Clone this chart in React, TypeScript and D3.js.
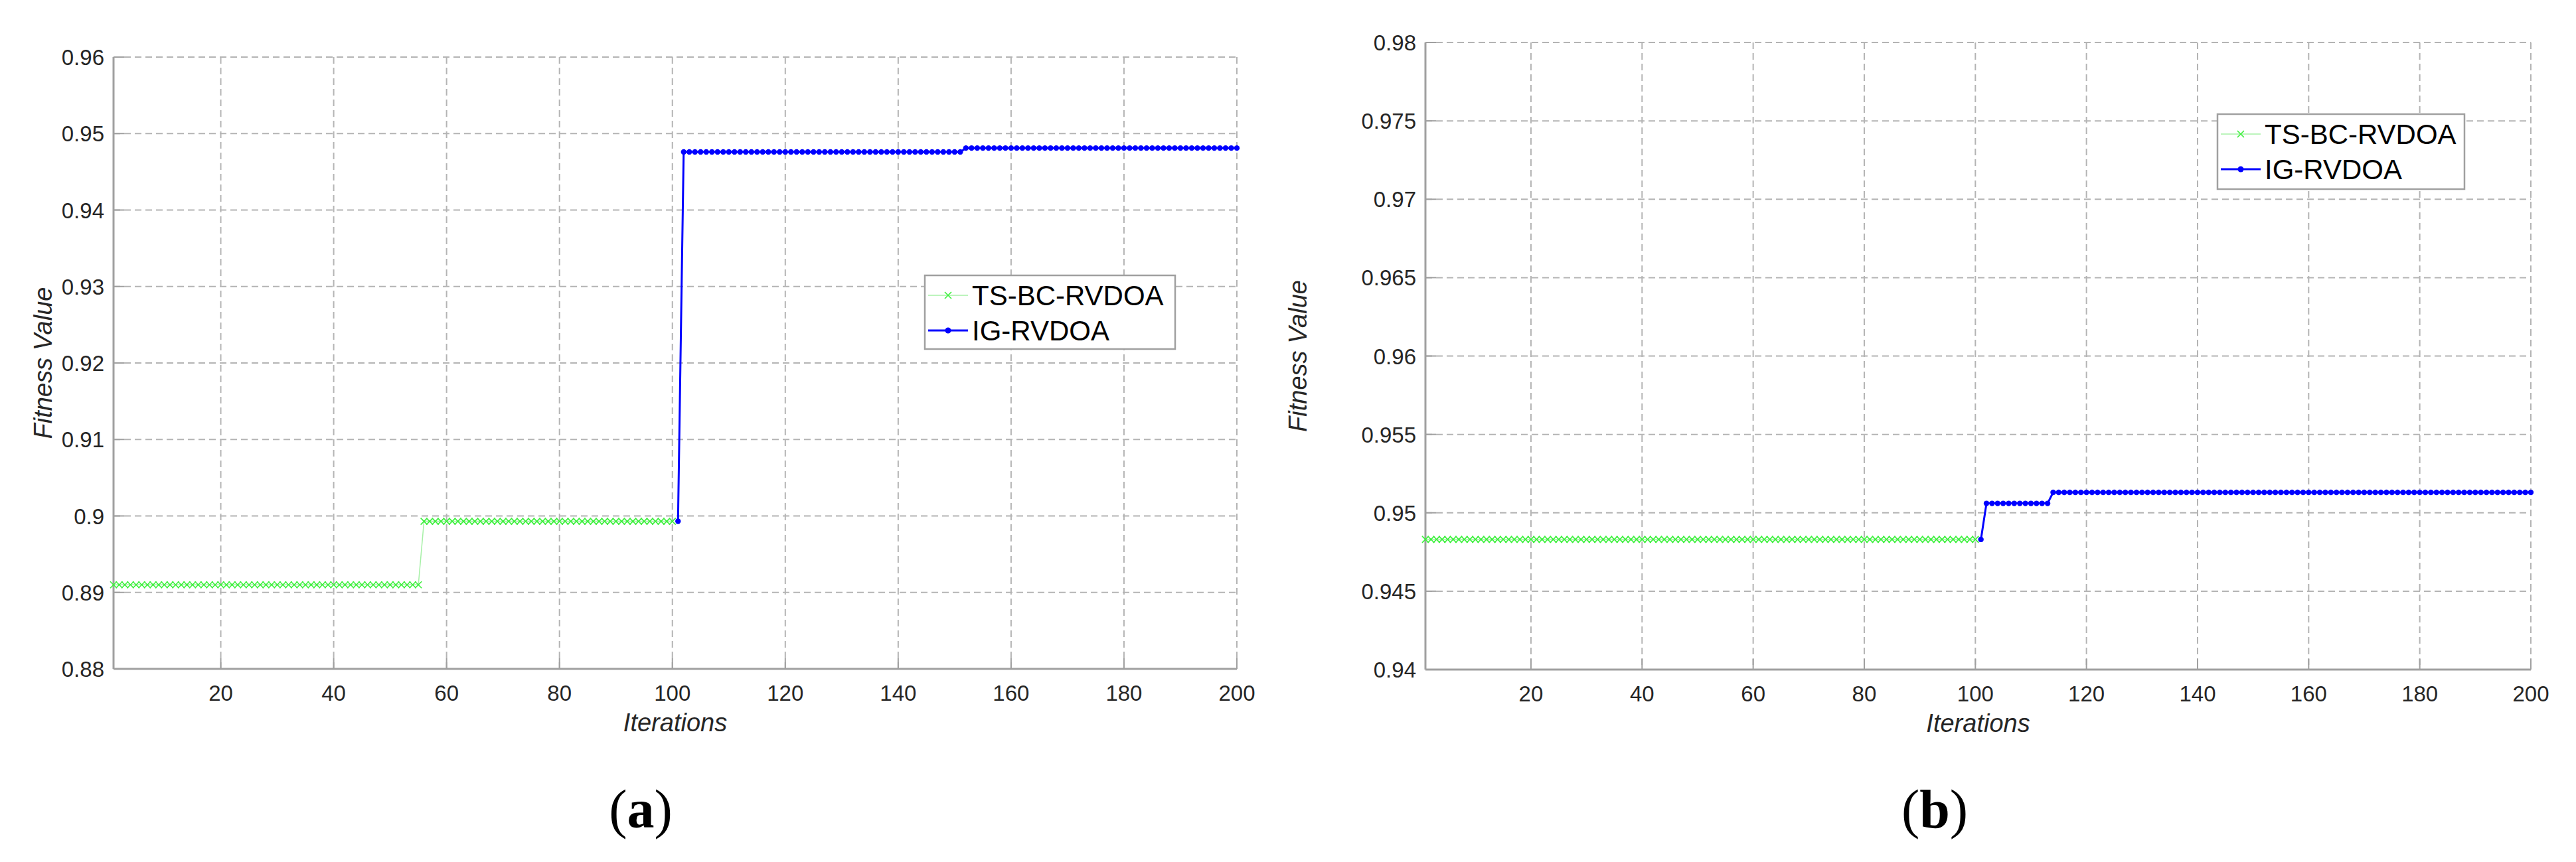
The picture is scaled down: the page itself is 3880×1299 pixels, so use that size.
import React from "react";
import * as d3 from "d3";

// ---------- data ----------
const iterTicks = [20, 40, 60, 80, 100, 120, 140, 160, 180, 200];
const yTicksA = [0.88, 0.89, 0.9, 0.91, 0.92, 0.93, 0.94, 0.95, 0.96];
const yTickLabelsA = ["0.88", "0.89", "0.9", "0.91", "0.92", "0.93", "0.94", "0.95", "0.96"];
const yTicksB = [0.94, 0.945, 0.95, 0.955, 0.96, 0.965, 0.97, 0.975, 0.98];
const yTickLabelsB = ["0.94", "0.945", "0.95", "0.955", "0.96", "0.965", "0.97", "0.975", "0.98"];

// step runs: [first iteration, last iteration, fitness value]
const tsRunsA = [[1, 55, 0.891], [56, 100, 0.8993]];
const igRunsA = [[101, 101, 0.8993], [102, 151, 0.9476], [152, 200, 0.9481]];
const tsRunsB = [[1, 100, 0.9483]];
const igRunsB = [[101, 101, 0.9483], [102, 113, 0.9506], [114, 200, 0.9513]];

const seriesNames = ["TS-BC-RVDOA", "IG-RVDOA"];
const panelLabels = ["(a)", "(b)"];

function expand(runs: number[][]) {
  const pts: { x: number; y: number }[] = [];
  runs.forEach(([a, b, v]) => {
    for (let i = a; i <= b; i++) pts.push({ x: i, y: v });
  });
  return pts;
}

const SANS = "'Liberation Sans', Arial, Helvetica, sans-serif";
const SERIF = "'Liberation Serif', 'Times New Roman', serif";
const AXIS = "#a0a0a0";
const GRID = "#b4b4b4";
const TXT = "#262626";
const GREEN_LINE = "#a6f0a6";
const GREEN_MK = "#3cf03c";
const BLUE = "#0000ff";

type PanelProps = {
  left: number; right: number; top: number; bottom: number;
  yDomain: [number, number]; yTicks: number[]; yLabels: string[];
  ts: number[][]; ig: number[][];
  legend: { x: number; y: number; w: number; h: number };
  label: string; labelX: number; ylabX: number;
};

function Panel(p: PanelProps) {
  const x = d3.scaleLinear().domain([1, 200]).range([p.left, p.right]);
  const y = d3.scaleLinear().domain(p.yDomain).range([p.bottom, p.top]);
  const line = d3.line<{ x: number; y: number }>().x(d => x(d.x)).y(d => y(d.y));
  const tsPts = expand(p.ts);
  const igPts = expand(p.ig);
  const cx = (p.left + p.right) / 2;
  const cy = (p.top + p.bottom) / 2;
  const tickLen = 16;
  const mk = 5;
  const L = p.legend;
  const row1 = L.y + 30;
  const row2 = L.y + 83;
  const sx0 = L.x + 5, sx1 = L.x + 65, smx = L.x + 35;
  const textX = L.x + 71;
  return (
    <g>
      {/* grid */}
      {iterTicks.map(t => (
        <line key={"vg" + t} x1={x(t)} x2={x(t)} y1={p.top} y2={p.bottom}
          stroke={GRID} strokeWidth={2} strokeDasharray="10,6" />
      ))}
      {p.yTicks.map(t => (
        <line key={"hg" + t} x1={p.left} x2={p.right} y1={y(t)} y2={y(t)}
          stroke={GRID} strokeWidth={2} strokeDasharray="10,6" />
      ))}
      {/* axes */}
      <line x1={p.left} x2={p.right} y1={p.bottom} y2={p.bottom} stroke={AXIS} strokeWidth={3} />
      <line x1={p.left} x2={p.left} y1={p.top} y2={p.bottom} stroke={AXIS} strokeWidth={3} />
      {iterTicks.map(t => (
        <line key={"xt" + t} x1={x(t)} x2={x(t)} y1={p.bottom} y2={p.bottom - tickLen} stroke={AXIS} strokeWidth={2} />
      ))}
      {p.yTicks.map(t => (
        <line key={"yt" + t} x1={p.left} x2={p.left + tickLen} y1={y(t)} y2={y(t)} stroke={AXIS} strokeWidth={2} />
      ))}
      {iterTicks.map(t => (
        <text key={"xl" + t} x={x(t)} y={p.bottom + 48} textAnchor="middle"
          fontFamily={SANS} fontSize={33} fill={TXT}>{t}</text>
      ))}
      {p.yTicks.map((t, i) => (
        <text key={"yl" + t} x={p.left - 14} y={y(t) + 12} textAnchor="end"
          fontFamily={SANS} fontSize={33} fill={TXT}>{p.yLabels[i]}</text>
      ))}
      {/* series: TS-BC-RVDOA */}
      <path d={line(tsPts) || ""} fill="none" stroke={GREEN_LINE} strokeWidth={1.5} />
      {tsPts.map((d, i) => (
        <path key={"tm" + i}
          d={`M${x(d.x) - mk},${y(d.y) - mk}L${x(d.x) + mk},${y(d.y) + mk}M${x(d.x) - mk},${y(d.y) + mk}L${x(d.x) + mk},${y(d.y) - mk}`}
          stroke={GREEN_MK} strokeWidth={1.6} fill="none" />
      ))}
      {/* series: IG-RVDOA */}
      <path d={line(igPts) || ""} fill="none" stroke={BLUE} strokeWidth={3} />
      {igPts.map((d, i) => (
        <circle key={"im" + i} cx={x(d.x)} cy={y(d.y)} r={4.2} fill={BLUE} />
      ))}
      {/* axis labels */}
      <text x={cx} y={p.bottom + 94} textAnchor="middle" fontFamily={SANS} fontStyle="italic"
        fontSize={38} fill={TXT}>Iterations</text>
      <text transform={`translate(${p.ylabX},${cy}) rotate(-90)`} textAnchor="middle" fontFamily={SANS}
        fontStyle="italic" fontSize={38} fill={TXT}>Fitness Value</text>
      {/* legend */}
      <rect x={L.x} y={L.y} width={L.w} height={L.h} fill="#ffffff" stroke={AXIS} strokeWidth={2.5} />
      <line x1={sx0} x2={sx1} y1={row1} y2={row1} stroke={GREEN_LINE} strokeWidth={1.5} />
      <path d={`M${smx - mk},${row1 - mk}L${smx + mk},${row1 + mk}M${smx - mk},${row1 + mk}L${smx + mk},${row1 - mk}`}
        stroke={GREEN_MK} strokeWidth={1.6} />
      <text x={textX} y={row1 + 15} fontFamily={SANS} fontSize={42} fill="#000">{seriesNames[0]}</text>
      <line x1={sx0} x2={sx1} y1={row2} y2={row2} stroke={BLUE} strokeWidth={3} />
      <circle cx={smx} cy={row2} r={4.5} fill={BLUE} />
      <text x={textX} y={row2 + 15} fontFamily={SANS} fontSize={42} fill="#000">{seriesNames[1]}</text>
      {/* panel label */}
      <text x={p.labelX} y={1247} textAnchor="middle" fontFamily={SERIF} fontSize={82} fill="#000">
        (<tspan fontWeight="bold">{p.label.replace(/[()]/g, "")}</tspan>)
      </text>
    </g>
  );
}

export default function App() {
  return (
    <svg width={3880} height={1299} style={{ position: "absolute", left: 0, top: 0, background: "#fff" }}>
      <rect x={0} y={0} width={3880} height={1299} fill="#fff" />
      <Panel left={171} right={1863} top={86} bottom={1008} yDomain={[0.88, 0.96]}
        yTicks={yTicksA} yLabels={yTickLabelsA} ts={tsRunsA} ig={igRunsA}
        legend={{ x: 1393, y: 415, w: 377, h: 111 }} label={panelLabels[0]} labelX={965} ylabX={78} />
      <Panel left={2147} right={3812} top={64} bottom={1009} yDomain={[0.94, 0.98]}
        yTicks={yTicksB} yLabels={yTickLabelsB} ts={tsRunsB} ig={igRunsB}
        legend={{ x: 3340, y: 172, w: 372, h: 113 }} label={panelLabels[1]} labelX={2914} ylabX={1968} />
    </svg>
  );
}
